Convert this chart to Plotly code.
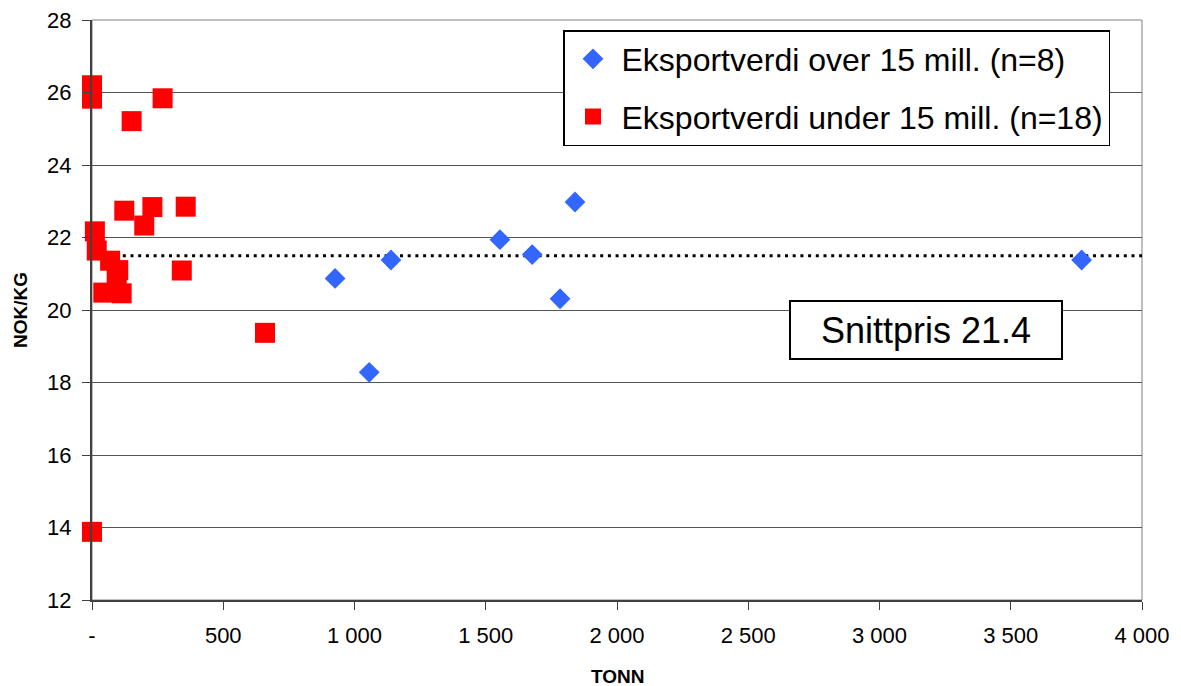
import plotly.graph_objects as go

# ---- data ----
over_x = [926, 1056, 1139, 1554, 1677, 1783, 1840, 3770]
over_y = [20.87, 18.28, 21.38, 21.94, 21.53, 20.31, 22.98, 21.38]

under_x = [0, 0, 151, 269, 123, 230, 199, 357, 11, 18, 69, 100, 94, 342, 43, 113, 659, 0]
under_y = [26.2, 25.83, 25.21, 25.84, 22.74, 22.84, 22.33, 22.85, 22.17, 21.64,
           21.36, 21.1, 20.88, 21.09, 20.48, 20.46, 19.37, 13.88]

avg_line_x = [0, 4000]
avg_line_y = [21.5, 21.5]
avg_label = "Snittpris 21.4"

x_tickvals = [0, 500, 1000, 1500, 2000, 2500, 3000, 3500, 4000]
x_ticktext = ["-", "500", "1 000", "1 500", "2 000", "2 500", "3 000", "3 500", "4 000"]
y_tickvals = [12, 14, 16, 18, 20, 22, 24, 26, 28]

name_over = "Eksportverdi over 15 mill. (n=8)"
name_under = "Eksportverdi under 15 mill. (n=18)"

FONT = "Liberation Sans, Arial, sans-serif"

# page body has an 8px default margin; size the figure to fit the window
W, H = 1173, 678
ML, MT = 84, 12
PW, PH = 1050, 580

fig = go.Figure()

fig.add_trace(go.Scatter(
    x=avg_line_x, y=avg_line_y, mode="lines",
    line=dict(color="black", width=3, dash="3px,4.7px"),
    showlegend=False, hoverinfo="skip", cliponaxis=False,
))

fig.add_trace(go.Scatter(
    x=over_x, y=over_y, mode="markers", name=name_over,
    legendgroup="a",
    marker=dict(symbol="diamond", size=16, color="#3366FF", line=dict(width=0)),
    cliponaxis=False,
))

fig.add_trace(go.Scatter(
    x=under_x, y=under_y, mode="markers", name=name_under,
    legendgroup="b",
    marker=dict(symbol="square", size=20, color="#FF0000", line=dict(width=0)),
    cliponaxis=False,
))

fig.add_annotation(
    x=3177, y=19.44, xref="x", yref="y",
    text=avg_label, showarrow=False,
    font=dict(family=FONT, size=36, color="black"),
    bgcolor="white", bordercolor="black", borderwidth=2, borderpad=0,
    width=270, height=56,
)
fig.add_annotation(
    x=0.5, y=-76 / PH, xref="paper", yref="paper", text="<b>TONN</b>",
    showarrow=False, font=dict(family=FONT, size=19, color="black"),
    xanchor="center", yanchor="middle",
)
fig.add_annotation(
    x=-72 / PW, y=0.5, xref="paper", yref="paper", text="<b>NOK/KG</b>",
    showarrow=False, font=dict(family=FONT, size=19, color="black"),
    textangle=-90, xanchor="center", yanchor="middle",
)

fig.update_layout(
    width=W, height=H,
    margin=dict(l=ML, r=W - ML - PW, t=MT, b=H - MT - PH, autoexpand=False),
    paper_bgcolor="white", plot_bgcolor="white",
    font=dict(family=FONT, color="black"),
    showlegend=True,
    legend=dict(
        x=471 / PW, y=(PH - 10) / PH, xanchor="left", yanchor="top",
        xref="paper", yref="paper",
        bgcolor="white", bordercolor="black", borderwidth=1.5,
        font=dict(family=FONT, size=32, color="black"),
        traceorder="grouped", tracegroupgap=13,
        itemsizing="trace", itemwidth=47,
    ),
    xaxis=dict(
        range=[0, 4000], tickvals=x_tickvals, ticktext=x_ticktext,
        ticks="outside", ticklen=8, tickcolor="#404040", tickwidth=1,
        tickfont=dict(size=22, family=FONT), showgrid=False, zeroline=False,
        showline=True, linecolor="#404040", linewidth=2, automargin=False,
        ticklabelstandoff=7, ticklabeloverflow="allow",
    ),
    yaxis=dict(
        range=[12, 28], tickvals=y_tickvals,
        ticks="outside", ticklen=8, tickcolor="#404040", tickwidth=1,
        tickfont=dict(size=22, family=FONT),
        showgrid=True, gridcolor="#555555", gridwidth=1, zeroline=False,
        showline=True, linecolor="#404040", linewidth=2, automargin=False,
        ticklabelstandoff=6, ticklabeloverflow="allow",
    ),
    shapes=[dict(type="rect", xref="paper", yref="paper", x0=0, x1=1, y0=0, y1=1,
                 line=dict(color="#808080", width=1), layer="below")],
)

fig.write_html("out.html")
